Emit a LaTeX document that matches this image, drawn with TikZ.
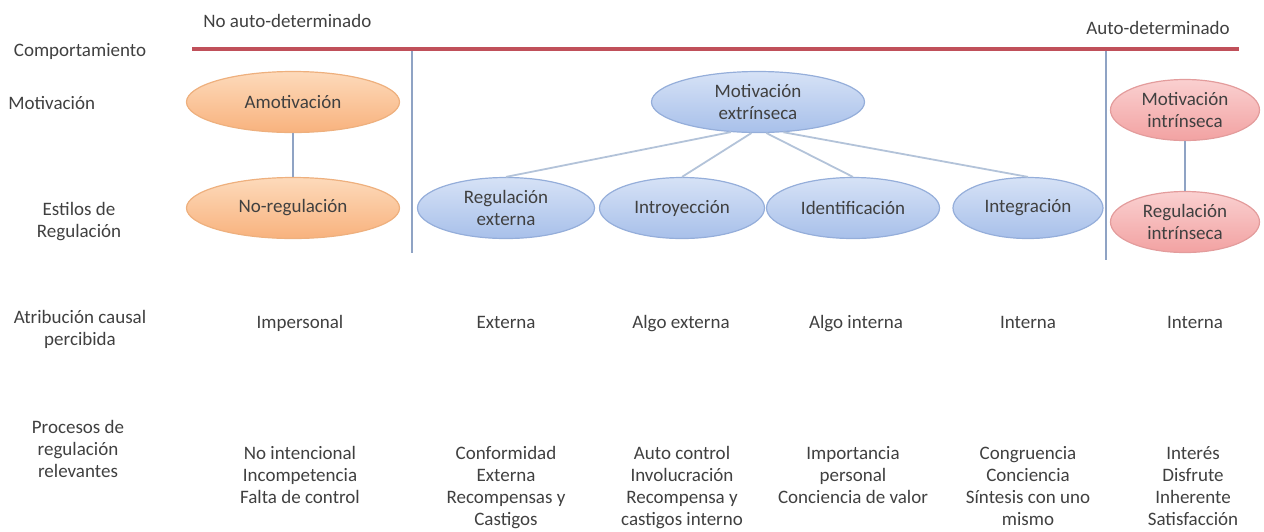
\documentclass[tikz,border=0pt]{standalone}
\usepackage{fontspec}
\setmainfont{Carlito}
\usetikzlibrary{shapes.geometric}
\definecolor{txt}{HTML}{404040}
\definecolor{bar}{HTML}{C0505A}
\definecolor{sepc}{HTML}{8FA3C4}
\definecolor{lnk}{HTML}{B3C3D9}
\definecolor{orTop}{HTML}{FDDABB}
\definecolor{orBot}{HTML}{F8B27D}
\definecolor{orLine}{HTML}{EEB07E}
\definecolor{blTop}{HTML}{D6E2F6}
\definecolor{blBot}{HTML}{A8C0EA}
\definecolor{blLine}{HTML}{95AEDA}
\definecolor{pkTop}{HTML}{FAD0D0}
\definecolor{pkBot}{HTML}{F2A2A2}
\definecolor{pkLine}{HTML}{E39C9C}

\begin{document}
\begin{tikzpicture}[x=0.5pt,y=-0.5pt,
 every node/.style={font=\fontsize{9.5}{11}\selectfont,text=txt,align=center,inner sep=0pt},
 oval/.style={ellipse,line width=0.6pt,minimum height=30.5pt},
 amot/.style={oval,draw=orLine,top color=orTop,bottom color=orBot},
 extr/.style={oval,draw=blLine,top color=blTop,bottom color=blBot},
 intr/.style={oval,draw=pkLine,top color=pkTop,bottom color=pkBot},
 cell/.style={anchor=base},
 link/.style={draw=lnk,line width=0.9pt},
 sepline/.style={draw=sepc,line width=0.6pt}]
\useasboundingbox (0,0) rectangle (1264,531);
\node[anchor=west] (nad) at (203,21) {No auto-determinado};
\node[anchor=east] (ad) at (1230,28) {Auto-determinado};
\node (comp) at (80,51) {Comportamiento};
\node[anchor=west] (motiv) at (8,103) {Motivación};
\node (estilos) at (79,222) {Estilos de\\Regulación};
\node (atrib) at (80,329) {Atribución causal\\percibida};
\node (proc) at (78,449) {Procesos de\\regulación\\relevantes};
\coordinate (barL) at (192,49);
\coordinate (barR) at (1239,49);
\draw[bar,line width=2pt] (barL)--(barR);
\coordinate (sepAt) at (412,51);
\coordinate (sepAb) at (412,253);
\coordinate (sepBt) at (1106,51);
\coordinate (sepBb) at (1106,260);
\draw[sepline] (sepAt)--(sepAb);
\draw[sepline] (sepBt)--(sepBb);
\node[amot,minimum width=106.5pt] (amo) at (293,102) {Amotivación};
\node[amot,minimum width=106.5pt] (noreg) at (293,208) {No-regulación};
\node[extr,minimum width=106.5pt] (mext) at (758,102) {Motivación\\extrínseca};
\node[extr,minimum width=88.5pt] (rext) at (506,208) {Regulación\\externa};
\node[extr,minimum width=82.5pt] (introy) at (682,208) {Introyección};
\node[extr,minimum width=86.5pt] (ident) at (853,208) {Identificación};
\node[extr,minimum width=75pt] (integ) at (1028,208) {Integración};
\node[intr,minimum width=74.5pt] (mint) at (1185,110) {Motivación\\intrínseca};
\node[intr,minimum width=74.5pt] (rint) at (1185,222) {Regulación\\intrínseca};
\draw[sepline] (amo)--(noreg);
\draw[link] (mext.228)--(rext.north);
\draw[link] (mext.258)--(introy.north);
\draw[link] (mext.285)--(ident.north);
\draw[link] (mext.310)--(integ.north);
\draw[sepline] (mint)--(rint);
\node[cell] (atImp) at (300,328) {Impersonal};
\node[cell] (atExt) at (506,328) {Externa};
\node[cell] (atAlgExt) at (681,328) {Algo externa};
\node[cell] (atAlgInt) at (856,328) {Algo interna};
\node[cell] (atInt) at (1028,328) {Interna};
\node[cell] (atIntr) at (1195,328) {Interna};
\node[anchor=north] (prImp) at (300,446) {No intencional\\Incompetencia\\Falta de control};
\node[anchor=north] (prExt) at (506,446) {Conformidad\\Externa\\Recompensas y\\Castigos};
\node[anchor=north] (prIntroy) at (682,446) {Auto control\\Involucración\\Recompensa y\\castigos interno};
\node[anchor=north] (prIdent) at (853,446) {Importancia\\personal\\Conciencia de valor};
\node[anchor=north] (prInteg) at (1028,446) {Congruencia\\Conciencia\\Síntesis con uno\\mismo};
\node[anchor=north] (prIntr) at (1193,446) {Interés\\Disfrute\\Inherente\\Satisfacción};
\end{tikzpicture}
\end{document}
